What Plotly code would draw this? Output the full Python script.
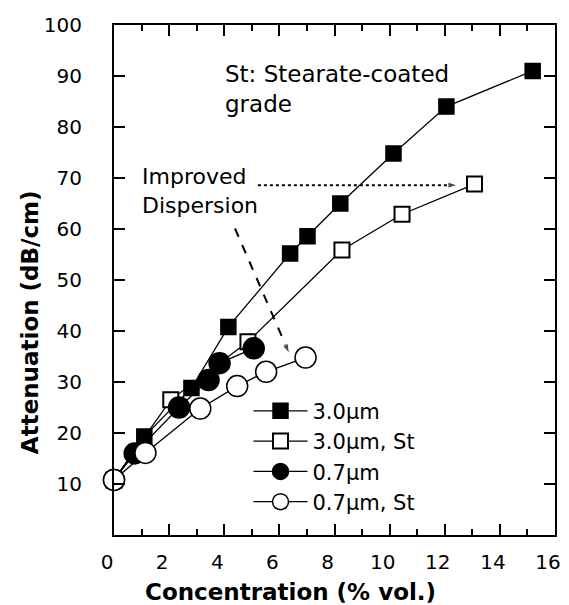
import plotly.graph_objects as go

# ---- data ----
x_30 = [0.0, 1.10, 2.81, 4.15, 6.39, 7.02, 8.21, 10.14, 12.06, 15.19]
y_30 = [10.8, 19.3, 28.8, 40.8, 55.2, 58.6, 65.0, 74.8, 84.0, 91.0]

x_30st = [0.0, 2.06, 4.86, 8.27, 10.45, 13.08]
y_30st = [10.8, 26.5, 37.9, 55.9, 62.9, 68.8]

x_07 = [0.0, 0.75, 2.36, 3.43, 3.83, 5.07]
y_07 = [10.8, 16.0, 25.0, 30.4, 33.7, 36.6]

x_07st = [0.0, 1.14, 3.13, 4.47, 5.52, 6.95]
y_07st = [10.8, 16.1, 24.8, 29.2, 32.0, 34.8]

series_names = ["3.0\u00b5m", "3.0\u00b5m, St", "0.7\u00b5m", "0.7\u00b5m, St"]

x_ticks = [0, 2, 4, 6, 8, 10, 12, 14, 16]
y_ticks = [10, 20, 30, 40, 50, 60, 70, 80, 90, 100]

# annotation arrows (data coords)
dotted_x = [5.22, 12.46]
dotted_y = [68.6, 68.6]
dashed_x = [4.39, 6.36]
dashed_y = [60.1, 35.6]

FONT = "DejaVu Sans"

fig = go.Figure()

styles = [
    dict(symbol="square", size=15, color="black", line=dict(color="black", width=1.5)),
    dict(symbol="square", size=15, color="white", line=dict(color="black", width=2)),
    dict(symbol="circle", size=21, color="black", line=dict(color="black", width=1.5)),
    dict(symbol="circle", size=21, color="white", line=dict(color="black", width=1.5)),
]
data = [(x_30, y_30), (x_30st, y_30st), (x_07, y_07), (x_07st, y_07st)]

for (xs, ys), name, st in zip(data, series_names, styles):
    fig.add_trace(go.Scatter(
        x=xs, y=ys, mode="lines+markers", name=name,
        line=dict(color="black", width=1.3),
        marker=st, cliponaxis=False,
    ))

# arrows
fig.add_trace(go.Scatter(
    x=dotted_x, y=dotted_y, mode="lines+markers", showlegend=False,
    line=dict(color="black", width=2, dash="dot"),
    marker=dict(symbol="arrow", size=[0, 10], angleref="previous", color="black"),
    hoverinfo="skip",
))
fig.add_trace(go.Scatter(
    x=dashed_x, y=dashed_y, mode="lines+markers", showlegend=False,
    line=dict(color="black", width=2, dash="dash"),
    marker=dict(symbol="arrow", size=[0, 10], angleref="previous", color="black"),
    hoverinfo="skip",
))

axis_common = dict(
    showline=True, linecolor="black", linewidth=2, mirror="ticks",
    ticks="inside", ticklen=11, tickwidth=2, tickcolor="black",
    showgrid=False, zeroline=False,
    tickfont=dict(family=FONT, size=20, color="black"),
)

fig.update_xaxes(range=[0, 16], tickvals=x_ticks, ticklabelstandoff=8,
                 ticklabelshift=-7, ticklabeloverflow="allow",
                 minor=dict(ticks="inside", ticklen=6, tickwidth=1.5, dtick=1, tick0=0, tickcolor="black"),
                 **axis_common)
fig.update_yaxes(range=[0, 100], tickvals=y_ticks, ticklabelstandoff=26, **axis_common)

fig.add_annotation(text="Concentration (% vol.)", xref="paper", yref="paper",
                   x=0.40, y=-0.112, xanchor="center", yanchor="middle", showarrow=False,
                   font=dict(family=FONT, size=23, color="black", weight="bold"))
fig.add_annotation(text="Attenuation (dB/cm)", xref="paper", yref="paper",
                   x=-0.192, y=0.418, xanchor="center", yanchor="middle", showarrow=False,
                   textangle=-90,
                   font=dict(family=FONT, size=23, color="black", weight="bold"))
fig.add_annotation(text="St: Stearate-coated<br>grade", xref="x", yref="y",
                   x=3.95, y=87.5, xanchor="left", yanchor="middle", align="left",
                   showarrow=False, font=dict(family=FONT, size=23, color="black"))
fig.add_annotation(text="Improved<br>Dispersion", xref="x", yref="y",
                   x=0.93, y=67.5, xanchor="left", yanchor="middle", align="left",
                   showarrow=False, font=dict(family=FONT, size=22, color="black"))

fig.update_layout(
    width=569, height=605,
    margin=dict(l=114, r=8, t=25, b=70),
    paper_bgcolor="white", plot_bgcolor="white",
    showlegend=True,
    legend=dict(x=0.305, y=0.283, xanchor="left", yanchor="top",
                bgcolor="rgba(0,0,0,0)", borderwidth=0,
                font=dict(family=FONT, size=21, color="black"),
                itemwidth=54, tracegroupgap=0),
)

fig.write_html("out.html", config={"displayModeBar": False},
               post_script="document.body.style.margin='0px';document.body.style.overflow='hidden';")
